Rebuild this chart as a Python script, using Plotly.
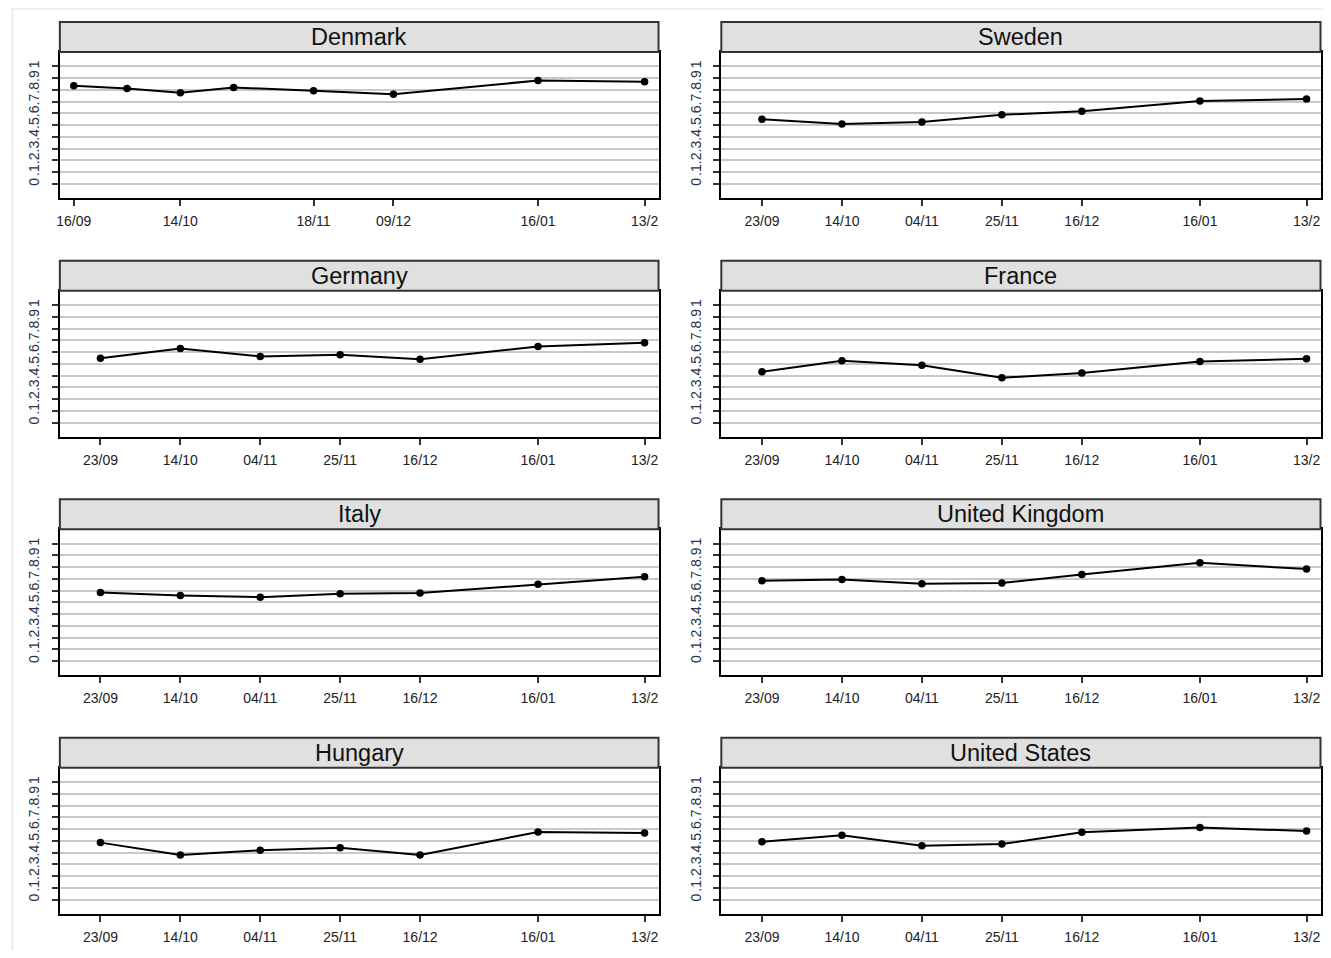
import plotly.graph_objects as go

# page offset of the plot div (body margin) and figure size
OFF = 8
W, H = 1331 - 2 * OFF, 958 - 2 * OFF

countries = ["Denmark", "Sweden", "Germany", "France", "Italy",
             "United Kingdom", "Hungary", "United States"]

dates_dk = ["2020-09-16", "2020-09-30", "2020-10-14", "2020-10-28",
            "2020-11-18", "2020-12-09", "2021-01-16", "2021-02-13"]
dates_std = ["2020-09-23", "2020-10-14", "2020-11-04", "2020-11-25",
             "2020-12-16", "2021-01-16", "2021-02-13"]

tick_dk_vals = ["2020-09-16", "2020-10-14", "2020-11-18", "2020-12-09",
                "2021-01-16", "2021-02-13"]
tick_dk_text = ["16/09", "14/10", "18/11", "09/12", "16/01", "13/2"]
tick_std_vals = dates_std
tick_std_text = ["23/09", "14/10", "04/11", "25/11", "16/12", "16/01", "13/2"]

denmark = [0.835, 0.812, 0.776, 0.821, 0.793, 0.764, 0.880, 0.869]
sweden = [0.551, 0.511, 0.526, 0.588, 0.619, 0.705, 0.722]
germany = [0.548, 0.630, 0.563, 0.577, 0.540, 0.648, 0.679]
france = [0.432, 0.526, 0.489, 0.381, 0.423, 0.520, 0.543]
italy = [0.585, 0.560, 0.545, 0.574, 0.580, 0.656, 0.720]
uk = [0.685, 0.696, 0.659, 0.665, 0.739, 0.838, 0.784]
hungary = [0.486, 0.381, 0.420, 0.443, 0.381, 0.577, 0.568]
usa = [0.494, 0.548, 0.460, 0.474, 0.574, 0.614, 0.585]

y_tick_vals = [0, 0.1, 0.2, 0.3, 0.4, 0.5, 0.6, 0.7, 0.8, 0.9, 1.0]
y_tick_text = ["0", ".1", ".2", ".3", ".4", ".5", ".6", ".7", ".8", ".9", "1"]

series = [denmark, sweden, germany, france, italy, uk, hungary, usa]
x_range = ["2020-09-12 08:00", "2021-02-16 16:00"]
y_range = [-0.12, 1.123]

# layout geometry in page pixels
col_x = [(56, 656.5), (719.5, 1320.5)]
header_top = [22, 260.7, 499.3, 737.8]
header_h = 30
plot_h = 146


def px(x):
    return (x - OFF) / W


def py(y):
    return 1 - (y - OFF) / H


FONT = "Liberation Sans, Arial"
fig = go.Figure()
shapes = []
annotations = []

for i, (name, vals) in enumerate(zip(countries, series)):
    r, c = divmod(i, 2)
    k = i + 1
    xs = dates_dk if name == "Denmark" else dates_std
    tv = tick_dk_vals if name == "Denmark" else tick_std_vals
    tt = tick_dk_text if name == "Denmark" else tick_std_text
    x0, x1 = col_x[c]
    ht = header_top[r]
    pt = ht + header_h
    pb = pt + plot_h
    xa = "xaxis" if k == 1 else f"xaxis{k}"
    ya = "yaxis" if k == 1 else f"yaxis{k}"
    fig.add_trace(go.Scatter(
        x=xs, y=vals, mode="lines+markers",
        line=dict(color="black", width=2),
        marker=dict(color="black", size=7.5),
        xaxis=f"x{k}", yaxis=f"y{k}", showlegend=False,
        hoverinfo="x+y"))
    fig.update_layout(**{
        xa: dict(domain=[px(x0), px(x1)], anchor=f"y{k}", type="date",
                 range=x_range, tickvals=tv, ticktext=tt, showgrid=False,
                 zeroline=False, showline=True, linecolor="black",
                 linewidth=2, mirror=True, ticks="outside", ticklen=6,
                 tickwidth=1.5, tickcolor="#333333", ticklabelstandoff=3,
                 tickfont=dict(family=FONT, size=14, color="#222222")),
        ya: dict(domain=[py(pb), py(pt)], anchor=f"x{k}", range=y_range,
                 tickvals=y_tick_vals, ticktext=y_tick_text, tickangle=-90,
                 showgrid=True, gridcolor="#c8c8c8", gridwidth=2,
                 zeroline=False, showline=True, linecolor="black",
                 linewidth=2, mirror=True, ticks="outside", ticklen=6,
                 tickwidth=1.5, tickcolor="#333333", ticklabelstandoff=7,
                 tickfont=dict(family=FONT, size=14, color="#26324a")),
    })
    shapes.append(dict(type="rect", xref="paper", yref="paper",
                       x0=px(x0), x1=px(x1), y0=py(pt), y1=py(ht),
                       fillcolor="#e0e0e0",
                       line=dict(color="#333333", width=2), layer="above"))
    annotations.append(dict(xref="paper", yref="paper",
                            x=px((x0 + x1) / 2), y=py(ht + header_h / 2),
                            text=name, showarrow=False,
                            xanchor="center", yanchor="middle",
                            font=dict(family=FONT, size=23.5,
                                      color="#111111")))

shapes.append(dict(type="rect", xref="paper", yref="paper",
                   x0=px(8.5), x1=px(1345), y0=py(975), y1=py(8.5),
                   line=dict(color="#ececec", width=2), layer="below"))

fig.update_layout(width=W, height=H, margin=dict(l=0, r=0, t=0, b=0),
                  paper_bgcolor="white", plot_bgcolor="white",
                  shapes=shapes, annotations=annotations)

fig.write_html("out.html")
